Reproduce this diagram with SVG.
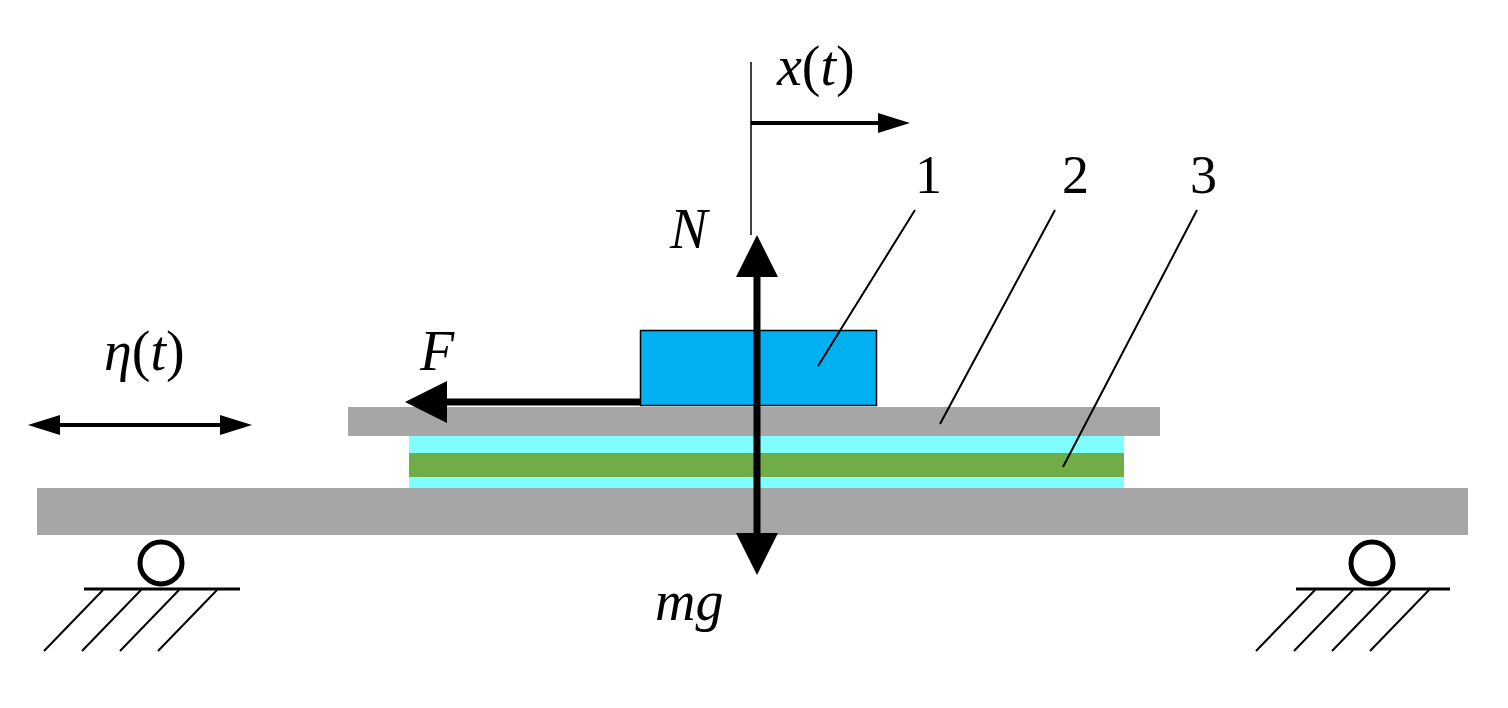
<svg xmlns="http://www.w3.org/2000/svg" width="1508" height="708" viewBox="0 0 1508 708">
<style>
.t{font-family:"Liberation Serif",serif;font-style:italic;font-size:56px;fill:#000}
.n{font-family:"Liberation Serif",serif;font-size:54px;fill:#000}
.th{stroke:#000;stroke-width:3;fill:none}
.h{stroke:#000;stroke-width:2;fill:none}
</style>
<defs>
<marker id="a" markerWidth="6" markerHeight="6" refX="1" refY="3" orient="auto-start-reverse" markerUnits="strokeWidth"><path d="M0,0L6,3L0,6Z"/></marker>
<marker id="b" markerWidth="8" markerHeight="5" refX="1" refY="2.5" orient="auto-start-reverse" markerUnits="strokeWidth"><path d="M0,0L8,2.5L0,5Z"/></marker>
</defs>
<g id="base"><rect x="37" y="488" width="1431" height="47" fill="#a6a6a6"/></g>
<g id="layer3">
<rect x="409" y="436" width="715" height="17" fill="#7fffff"/>
<rect x="409" y="453" width="715" height="24" fill="#70ad47"/>
<rect x="409" y="477" width="715" height="11" fill="#7fffff"/>
</g>
<g id="plate2"><rect x="348" y="407" width="812" height="29" fill="#a6a6a6"/></g>
<g id="block1"><rect x="640.5" y="330.5" width="236" height="75" fill="#00b0f0" stroke="#000" stroke-width="1.5"/></g>
<g id="supportL">
<circle cx="161" cy="563" r="21" fill="#fff" stroke="#000" stroke-width="5"/>
<line x1="84" y1="589" x2="240" y2="589" class="th"/>
<path class="h" d="M103,590L44,651M141,590L82,651M179,590L120,651M217,590L158,651"/>
</g>
<g id="supportR">
<circle cx="1372" cy="563" r="21" fill="#fff" stroke="#000" stroke-width="5"/>
<line x1="1296" y1="589" x2="1450" y2="589" class="th"/>
<path class="h" d="M1315,590L1256,651M1353,590L1294,651M1391,590L1332,651M1429,590L1370,651"/>
</g>
<g id="connectors">
<line x1="751" y1="62" x2="751" y2="235" stroke="#000" stroke-width="1.5"/>
<line x1="751" y1="123" x2="882" y2="123" stroke="#000" stroke-width="4" marker-end="url(#b)"/>
<line x1="757" y1="270" x2="757" y2="540" stroke="#000" stroke-width="7" marker-start="url(#a)" marker-end="url(#a)"/>
<line x1="640" y1="402" x2="440" y2="402" stroke="#000" stroke-width="7" marker-end="url(#a)"/>
<line x1="56" y1="425" x2="224" y2="425" stroke="#000" stroke-width="4" marker-start="url(#b)" marker-end="url(#b)"/>
<path class="h" d="M818,366L915,210M940,424L1055,210M1063,467L1197,210"/>
</g>
<g id="labels">
<text x="777" y="85" class="t">x<tspan font-style="normal">(</tspan>t<tspan font-style="normal">)</tspan></text>
<text x="104" y="370" class="t">η<tspan font-style="normal">(</tspan>t<tspan font-style="normal">)</tspan></text>
<text x="670" y="248" class="t">N</text>
<text x="420" y="370" class="t">F</text>
<text x="655" y="620" class="t">mg</text>
<text x="915" y="193" class="n">1</text>
<text x="1062" y="193" class="n">2</text>
<text x="1190" y="193" class="n">3</text>
</g>
</svg>
